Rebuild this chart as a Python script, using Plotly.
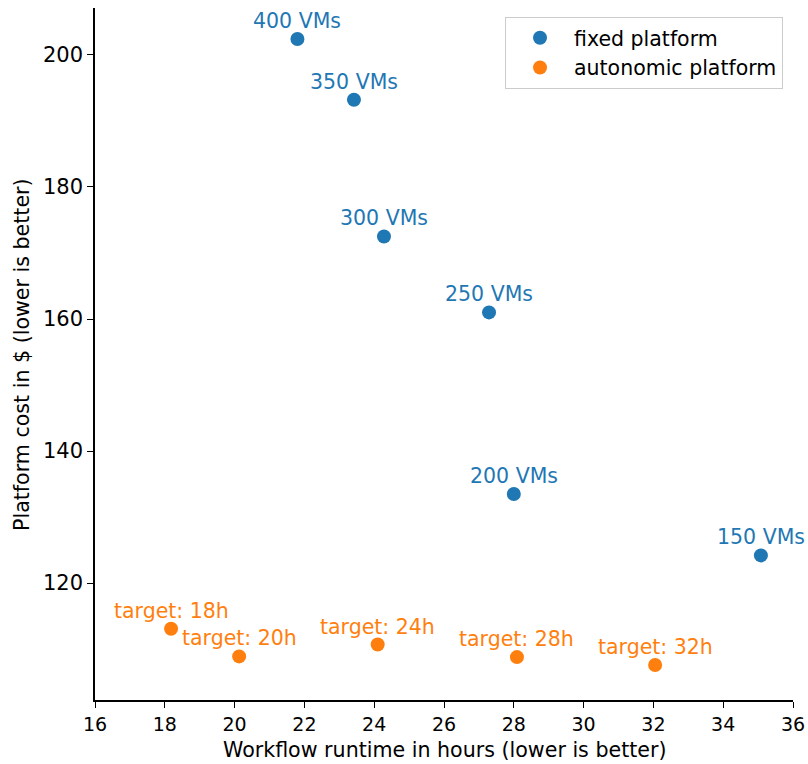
import plotly.graph_objects as go

# fixed platform: runtime (h) vs cost ($)
fixed_labels = ['400 VMs', '350 VMs', '300 VMs', '250 VMs', '200 VMs', '150 VMs']
fixed_runtime = [21.8, 23.42, 24.28, 27.29, 28.0, 35.08]
fixed_cost = [202.4, 193.2, 172.5, 161.0, 133.5, 124.2]

# autonomic platform
auto_labels = ['target: 18h', 'target: 20h', 'target: 24h', 'target: 28h', 'target: 32h']
auto_runtime = [18.18, 20.13, 24.1, 28.09, 32.05]
auto_cost = [113.1, 108.9, 110.7, 108.8, 107.6]

x_ticks = [16, 18, 20, 22, 24, 26, 28, 30, 32, 34, 36]
y_ticks = [120, 140, 160, 180, 200]

blue = '#1f77b4'
orange = '#ff7f0e'
font = 'DejaVu Sans'

fig = go.Figure()
fig.add_trace(go.Scatter(x=fixed_runtime, y=fixed_cost, mode='markers',
                         name='fixed platform',
                         marker=dict(color=blue, size=14)))
fig.add_trace(go.Scatter(x=auto_runtime, y=auto_cost, mode='markers',
                         name='autonomic platform',
                         marker=dict(color=orange, size=14)))

for lbl, x, y in zip(fixed_labels, fixed_runtime, fixed_cost):
    fig.add_annotation(x=x, y=y, text=lbl, showarrow=False, yshift=18,
                       font=dict(family=font, size=20.5, color=blue))
for lbl, x, y in zip(auto_labels, auto_runtime, auto_cost):
    fig.add_annotation(x=x, y=y, text=lbl, showarrow=False, yshift=18,
                       font=dict(family=font, size=20.5, color=orange))

# axis titles as paper annotations so they sit where the reference has them
fig.add_annotation(x=0.5, y=-0.0723, xref='paper', yref='paper', showarrow=False,
                   xanchor='center', yanchor='middle',
                   text='Workflow runtime in hours (lower is better)',
                   font=dict(family=font, size=20.6, color='black'))
fig.add_annotation(x=-0.1046, y=0.5, xref='paper', yref='paper', showarrow=False,
                   xanchor='center', yanchor='middle',
                   text='Platform cost in $ (lower is better)', textangle=-90,
                   font=dict(family=font, size=20.6, color='black'))

fig.update_xaxes(range=[16, 36], tickvals=x_ticks, showgrid=False, zeroline=False,
                 showline=True, linecolor='black', linewidth=1.5, automargin=False,
                 ticks='outside', ticklen=6, tickcolor='black',
                 tickfont=dict(family=font, size=19, color='black'))
fig.update_yaxes(range=[102.3, 207.1], tickvals=y_ticks, showgrid=False, zeroline=False,
                 showline=True, linecolor='black', linewidth=1.5, automargin=False,
                 ticks='outside', ticklen=6, tickcolor='black',
                 tickfont=dict(family=font, size=21, color='black'))

fig.update_layout(width=808, height=764,
                  margin=dict(l=95, r=15, t=8, b=64),
                  plot_bgcolor='white', paper_bgcolor='white',
                  legend=dict(x=0.9857, y=0.987, xanchor='right', yanchor='top',
                              bordercolor='#cccccc', borderwidth=1, itemwidth=58,
                              font=dict(family=font, size=20.5, color='black')))

# drop the default 8px body margin so the 808x764 figure fills the window
fig.write_html("out.html", config={'displayModeBar': False},
               post_script="document.body.style.margin='0px';")
